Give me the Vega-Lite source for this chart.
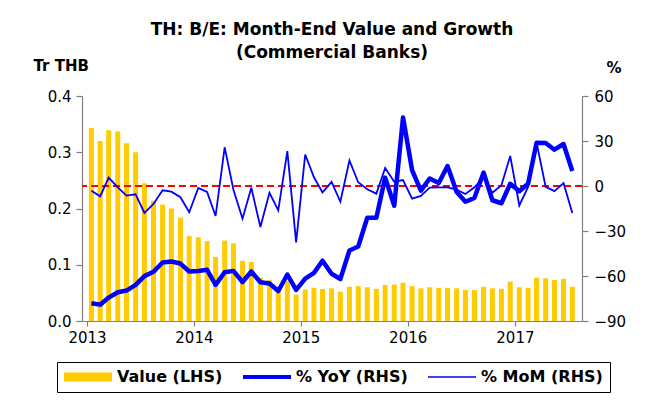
{
  "$schema": "https://vega.github.io/schema/vega-lite/v6.json",
  "width": 500,
  "height": 225,
  "autosize": {"type": "none"},
  "padding": {"left": 82, "top": 96, "right": 64, "bottom": 79},
  "background": "white",
  "title": {
    "text": ["TH: B/E: Month-End Value and Growth", "(Commercial Banks)"],
    "anchor": "middle",
    "frame": "group",
    "font": "DejaVu Sans",
    "fontSize": 17,
    "fontWeight": "bold",
    "color": "black",
    "lineHeight": 23,
    "offset": 0,
    "dy": 4
  },
  "data": {
    "values": [
      {"d": "2013-01-16", "v": 0.343, "y": -78.2, "m": -3.1},
      {"d": "2013-02-15", "v": 0.320, "y": -79.1, "m": -6.9},
      {"d": "2013-03-16", "v": 0.339, "y": -74.4, "m": 5.6},
      {"d": "2013-04-16", "v": 0.337, "y": -70.8, "m": -0.9},
      {"d": "2013-05-16", "v": 0.316, "y": -69.7, "m": -6.4},
      {"d": "2013-06-16", "v": 0.300, "y": -65.9, "m": -5.5},
      {"d": "2013-07-16", "v": 0.245, "y": -60.1, "m": -18.0},
      {"d": "2013-08-16", "v": 0.214, "y": -57.2, "m": -12.0},
      {"d": "2013-09-16", "v": 0.207, "y": -51.0, "m": -2.9},
      {"d": "2013-10-16", "v": 0.200, "y": -50.3, "m": -3.8},
      {"d": "2013-11-16", "v": 0.184, "y": -51.7, "m": -7.5},
      {"d": "2013-12-16", "v": 0.151, "y": -57.0, "m": -17.5},
      {"d": "2014-01-16", "v": 0.149, "y": -56.6, "m": -1.3},
      {"d": "2014-02-15", "v": 0.142, "y": -55.9, "m": -4.0},
      {"d": "2014-03-16", "v": 0.114, "y": -65.9, "m": -20.0},
      {"d": "2014-04-16", "v": 0.143, "y": -57.5, "m": 25.8},
      {"d": "2014-05-16", "v": 0.138, "y": -56.6, "m": -2.5},
      {"d": "2014-06-16", "v": 0.107, "y": -64.0, "m": -21.8},
      {"d": "2014-07-16", "v": 0.105, "y": -57.0, "m": -1.2},
      {"d": "2014-08-16", "v": 0.077, "y": -64.2, "m": -27.3},
      {"d": "2014-09-16", "v": 0.073, "y": -65.0, "m": -4.5},
      {"d": "2014-10-16", "v": 0.058, "y": -70.0, "m": -16.2},
      {"d": "2014-11-16", "v": 0.071, "y": -59.0, "m": 23.2},
      {"d": "2014-12-16", "v": 0.047, "y": -69.3, "m": -37.6},
      {"d": "2015-01-16", "v": 0.056, "y": -61.7, "m": 21.0},
      {"d": "2015-02-15", "v": 0.059, "y": -57.9, "m": 5.8},
      {"d": "2015-03-16", "v": 0.057, "y": -49.8, "m": -4.3},
      {"d": "2015-04-16", "v": 0.058, "y": -58.5, "m": 2.7},
      {"d": "2015-05-16", "v": 0.052, "y": -62.0, "m": -10.5},
      {"d": "2015-06-16", "v": 0.061, "y": -43.0, "m": 17.0},
      {"d": "2015-07-16", "v": 0.062, "y": -40.3, "m": 2.5},
      {"d": "2015-08-16", "v": 0.060, "y": -21.2, "m": -2.2},
      {"d": "2015-09-16", "v": 0.057, "y": -21.2, "m": -5.1},
      {"d": "2015-10-16", "v": 0.064, "y": 5.6, "m": 12.0},
      {"d": "2015-11-16", "v": 0.065, "y": -13.2, "m": 2.9},
      {"d": "2015-12-16", "v": 0.068, "y": 45.7, "m": 4.0},
      {"d": "2016-01-16", "v": 0.062, "y": 10.5, "m": -8.4},
      {"d": "2016-02-15", "v": 0.058, "y": -3.1, "m": -6.6},
      {"d": "2016-03-16", "v": 0.060, "y": 5.0, "m": -1.1},
      {"d": "2016-04-16", "v": 0.059, "y": 2.0, "m": -0.9},
      {"d": "2016-05-16", "v": 0.059, "y": 13.3, "m": -0.9},
      {"d": "2016-06-16", "v": 0.058, "y": -4.0, "m": -2.4},
      {"d": "2016-07-16", "v": 0.055, "y": -10.5, "m": -5.3},
      {"d": "2016-08-16", "v": 0.055, "y": -7.9, "m": -0.9},
      {"d": "2016-09-16", "v": 0.061, "y": 9.0, "m": 6.0},
      {"d": "2016-10-16", "v": 0.058, "y": -9.5, "m": -4.5},
      {"d": "2016-11-16", "v": 0.057, "y": -11.5, "m": 0.5},
      {"d": "2016-12-16", "v": 0.070, "y": 1.5, "m": 20.0},
      {"d": "2017-01-16", "v": 0.060, "y": -3.5, "m": -13.0},
      {"d": "2017-02-15", "v": 0.059, "y": 1.5, "m": -0.6},
      {"d": "2017-03-16", "v": 0.077, "y": 28.8, "m": 28.8},
      {"d": "2017-04-16", "v": 0.076, "y": 28.7, "m": -0.6},
      {"d": "2017-05-16", "v": 0.073, "y": 24.2, "m": -3.4},
      {"d": "2017-06-16", "v": 0.075, "y": 28.0, "m": 2.0},
      {"d": "2017-07-16", "v": 0.061, "y": 10.0, "m": -18.0}
    ]
  },
  "layer": [
    {
      "mark": {"type": "bar", "size": 5},
      "encoding": {
        "x": {
          "field": "d",
          "type": "temporal",
          "scale": {
            "type": "utc",
            "domain": [
              {"year": 2013, "month": 1, "date": 1, "utc": true},
              {"year": 2017, "month": 8, "date": 1, "utc": true}
            ]
          },
          "axis": {
            "title": null,
            "values": [
              {"year": 2013, "month": 1, "date": 1, "utc": true},
              {"year": 2014, "month": 1, "date": 1, "utc": true},
              {"year": 2015, "month": 1, "date": 1, "utc": true},
              {"year": 2016, "month": 1, "date": 1, "utc": true},
              {"year": 2017, "month": 1, "date": 1, "utc": true}
            ],
            "format": "%Y",
            "formatType": "utc",
            "labelFlush": false,
            "labelPadding": 4,
            "tickSize": 5
          }
        },
        "y": {
          "field": "v",
          "type": "quantitative",
          "scale": {"domain": [0, 0.4], "nice": false},
          "axis": {
            "orient": "left",
            "title": "Tr THB",
            "titleAngle": 0,
            "titleAlign": "left",
            "titleBaseline": "alphabetic",
            "titleX": -49,
            "titleY": -26,
            "values": [0, 0.1, 0.2, 0.3, 0.4],
            "format": ".1f",
            "tickSize": 6,
            "labelPadding": 5
          }
        },
        "color": {
          "datum": "Value (LHS)",
          "type": "nominal",
          "scale": {
            "domain": ["Value (LHS)", "% YoY (RHS)", "% MoM (RHS)"],
            "range": ["#FFCC00", "#0000FF", "#0000FF"]
          },
          "legend": {
            "symbolSize": 256,
            "symbolStrokeWidth": 0,
            "symbolOffset": 16,
            "labelOffset": 21,
            "encode": {
              "symbols": {
                "update": {
                  "shape": {"signal": "datum.value === 'Value (LHS)' ? 'M-3,-0.56H3V0.56H-3Z' : (datum.value === '% YoY (RHS)' ? 'M-3,-0.25H3V0.25H-3Z' : 'M-3,-0.1H3V0.1H-3Z')"},
                  "fill": {"signal": "datum.value === 'Value (LHS)' ? '#FFCC00' : '#0000FF'"},
                  "opacity": {"value": 1}
                }
              }
            }
          }
        }
      }
    },
    {
      "mark": {"type": "rule", "color": "#FF0000", "strokeDash": [7, 4], "strokeWidth": 1.5},
      "encoding": {
        "y": {
          "datum": 0,
          "type": "quantitative",
          "scale": {"domain": [-90, 60], "nice": false},
          "axis": null
        }
      }
    },
    {
      "layer": [
        {
          "mark": {"type": "line", "strokeWidth": 4.5, "strokeJoin": "round"},
          "encoding": {
            "x": {"field": "d", "type": "temporal"},
            "y": {
              "field": "y",
              "type": "quantitative",
              "scale": {"domain": [-90, 60], "nice": false},
              "axis": {
                "orient": "right",
                "title": "%",
                "titleAngle": 0,
                "titleAlign": "left",
                "titleBaseline": "alphabetic",
                "titleX": 24,
                "titleY": -24,
                "values": [-90, -60, -30, 0, 30, 60],
                "tickSize": 6,
                "labelPadding": 6
              }
            },
            "color": {"datum": "% YoY (RHS)", "type": "nominal"}
          }
        },
        {
          "mark": {"type": "line", "strokeWidth": 1.8},
          "encoding": {
            "x": {"field": "d", "type": "temporal"},
            "y": {
              "field": "m",
              "type": "quantitative",
              "scale": {"domain": [-90, 60], "nice": false},
              "axis": {
                "orient": "right",
                "title": "%",
                "titleAngle": 0,
                "titleAlign": "left",
                "titleBaseline": "alphabetic",
                "titleX": 24,
                "titleY": -24,
                "values": [-90, -60, -30, 0, 30, 60],
                "tickSize": 6,
                "labelPadding": 6
              }
            },
            "color": {"datum": "% MoM (RHS)", "type": "nominal"}
          }
        }
      ]
    }
  ],
  "resolve": {"scale": {"y": "independent"}},
  "config": {
    "view": {"stroke": null},
    "axis": {
      "grid": false,
      "domainColor": "#808080",
      "domainWidth": 1.2,
      "tickColor": "#808080",
      "tickWidth": 1.2,
      "labelFont": "DejaVu Sans",
      "labelFontSize": 15,
      "labelColor": "black",
      "titleFont": "DejaVu Sans",
      "titleFontSize": 15,
      "titleFontWeight": "bold",
      "titleColor": "black"
    },
    "legend": {
      "orient": "none",
      "legendX": -25,
      "legendY": 266,
      "direction": "horizontal",
      "title": null,
      "strokeColor": "black",
      "fillColor": "white",
      "padding": 7,
      "columnPadding": 20,
      "labelFont": "DejaVu Sans",
      "labelFontSize": 16,
      "labelFontWeight": "bold",
      "labelColor": "black"
    }
  }
}
